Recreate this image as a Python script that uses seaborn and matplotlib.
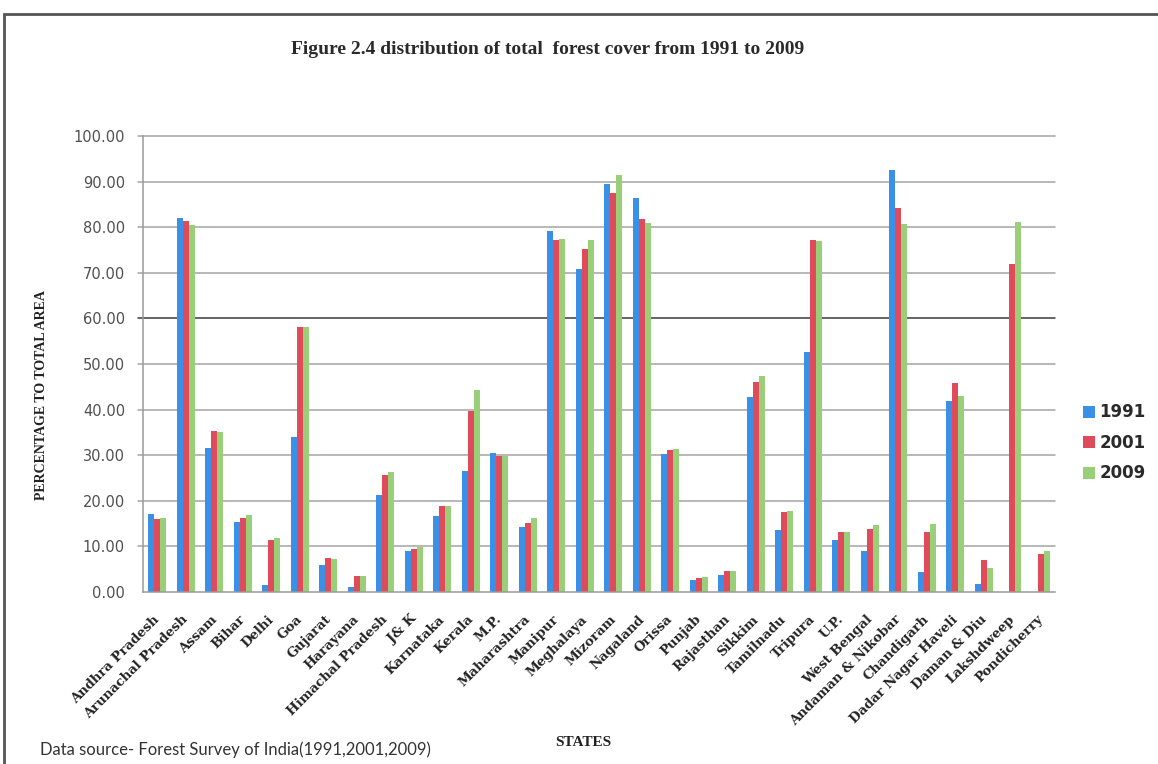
import matplotlib
matplotlib.use("Agg")
import matplotlib.pyplot as plt
from matplotlib.patches import Rectangle
from matplotlib.lines import Line2D
from matplotlib.transforms import ScaledTranslation
import seaborn as sns
import pandas as pd

states = [
    "Andhra Pradesh", "Arunachal Pradesh", "Assam", "Bihar", "Delhi", "Goa",
    "Gujarat", "Harayana", "Himachal Pradesh", "J& K", "Karnataka", "Kerala",
    "M.P.", "Maharashtra", "Manipur", "Meghalaya", "Mizoram", "Nagaland",
    "Orissa", "Punjab", "Rajasthan", "Sikkim", "Tamilnadu", "Tripura", "U.P.",
    "West Bengal", "Andaman & Nikobar", "Chandigarh", "Dadar Nagar Haveli",
    "Daman & Diu", "Lakshdweep", "Pondicherry",
]
years = ["1991", "2001", "2009"]

cover_1991 = [17.0, 82.0, 31.6, 15.3, 1.5, 33.9, 6.0, 1.1, 21.2, 8.9, 16.6, 26.5,
              30.5, 14.3, 79.2, 70.8, 89.4, 86.3, 30.3, 2.6, 3.8, 42.8, 13.7, 52.6,
              11.3, 9.0, 92.5, 4.3, 41.9, 1.8, 0.0, 0.0]
cover_2001 = [16.1, 81.3, 35.4, 16.2, 11.3, 58.2, 7.5, 3.5, 25.7, 9.5, 18.9, 39.8,
              29.8, 15.1, 77.1, 75.2, 87.4, 81.9, 31.1, 3.0, 4.5, 46.1, 17.5, 77.3,
              13.1, 13.9, 84.3, 13.1, 45.8, 7.0, 71.9, 8.3]
cover_2009 = [16.3, 80.4, 35.1, 16.9, 11.8, 58.2, 7.2, 3.5, 26.3, 9.9, 18.9, 44.4,
              29.9, 16.3, 77.4, 77.1, 91.4, 81.0, 31.3, 3.2, 4.7, 47.4, 17.8, 76.9,
              13.1, 14.6, 80.7, 14.9, 42.9, 5.2, 81.2, 9.0]

colors = ["#3A8FE6", "#E04B5C", "#98CF78"]

df = pd.DataFrame({
    "state": states * 3,
    "year": [y for y in years for _ in states],
    "cover": cover_1991 + cover_2001 + cover_2009,
})

sns.set_style("white")
plt.rcParams["font.family"] = ["DejaVu Sans"]

W, H = 1158, 764
fig = plt.figure(figsize=(W / 100, H / 100), dpi=100)
fig.patch.set_facecolor("white")

left, right, top, bottom = 143, 1055, 136, 592
ax = fig.add_axes([left / W, 1 - bottom / H, (right - left) / W, (bottom - top) / H])

sns.barplot(data=df, x="state", y="cover", hue="year", palette=colors,
            width=0.62, errorbar=None, linewidth=0, saturation=1, ax=ax)

ax.set_ylim(0, 100)
ax.set_xlim(-0.5, len(states) - 0.5)
ax.set_yticks(range(0, 101, 10))
ax.set_yticklabels([f"{v:.2f}" for v in range(0, 101, 10)],
                   fontsize=10.5, color="#505050")
ax.tick_params(axis="y", length=5, color="#9a9a9a", width=1, pad=8)
ax.tick_params(axis="x", length=0, pad=15)

ax.set_axisbelow(True)
for v in range(10, 101, 10):
    ax.axhline(v, color="#3a3a3a" if v == 60 else "#a4a4a4",
               lw=1.1, zorder=0, xmin=-0.006, clip_on=False)

for side in ["top", "right"]:
    ax.spines[side].set_visible(False)
for side in ["left", "bottom"]:
    ax.spines[side].set_color("#9a9a9a")
    ax.spines[side].set_linewidth(1.1)

ax.set_xticks(range(len(states)))
ax.set_xticklabels(states, rotation=45, ha="right", va="top",
                   rotation_mode="anchor", fontsize=9.5,
                   fontfamily="DejaVu Serif", fontweight="bold", color="#222222")
shift = ScaledTranslation(-4 / 100, 0, fig.dpi_scale_trans)
for lbl in ax.get_xticklabels():
    lbl.set_transform(lbl.get_transform() + shift)

ax.set_xlabel("")
ax.set_ylabel("")

ax.legend_.remove()
proxy = [Line2D([0], [0], marker="s", linestyle="none", markersize=9,
                markerfacecolor=c, markeredgewidth=0) for c in colors]
fig.legend(proxy, years, loc="center left",
           bbox_to_anchor=(1066 / W, 1 - 443 / H), frameon=False,
           prop={"family": "DejaVu Sans", "weight": "bold", "size": 12},
           labelcolor="#2a2a2a", handletextpad=0.2, labelspacing=0.75,
           handlelength=0.9)

fig.text(548 / W, 1 - 50 / H,
         "Figure 2.4 distribution of total  forest cover from 1991 to 2009",
         ha="center", va="center", fontsize=14, fontweight="bold",
         fontfamily="Liberation Serif", color="#2a2a2a")
fig.text(42 / W, 1 - 395 / H, "PERCENTAGE TO TOTAL AREA", rotation=90,
         ha="center", va="center", fontsize=10, fontweight="bold",
         fontfamily="Liberation Serif", color="#222222")
fig.text(583 / W, 1 - 742 / H, "STATES", ha="center", va="center",
         fontsize=11, fontweight="bold", fontfamily="Liberation Serif",
         color="#222222")
fig.text(40 / W, 1 - 750 / H, "Data source- Forest Survey of India(1991,2001,2009)",
         ha="left", va="center", fontsize=12, fontfamily="Lato", color="#333333")

fig.add_artist(Rectangle((4 / W, -0.05), 1.2, 1 - 14 / H + 0.05,
                         transform=fig.transFigure, fill=False,
                         edgecolor="#555555", lw=2))

fig.savefig("out.png", dpi=100, facecolor="white")
